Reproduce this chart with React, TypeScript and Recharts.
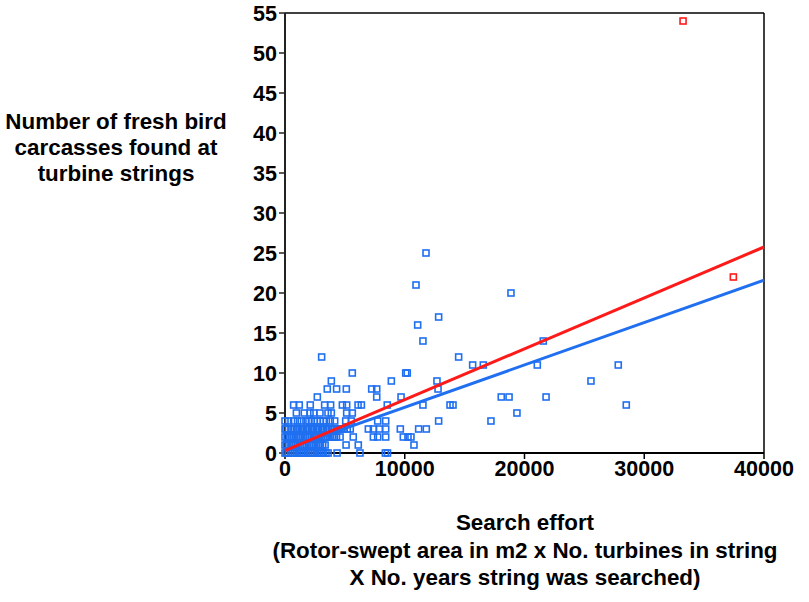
import React from 'react';
import { ScatterChart, Scatter, XAxis, YAxis, ReferenceLine } from 'recharts';

// ---------- data ----------
const X_TICKS = [0, 10000, 20000, 30000, 40000];
const Y_TICKS = [0, 5, 10, 15, 20, 25, 30, 35, 40, 45, 50, 55];

const Y_TITLE = ['Number of fresh bird', 'carcasses found at', 'turbine strings'];
const X_TITLE = [
  'Search effort',
  '(Rotor-swept area in m2 x No. turbines in string',
  'X No. years string was searched)',
];

// search effort of blue strings, grouped by number of carcasses found
const blue0 = [0, 120, 280, 450, 640, 820, 1000, 1190, 1370, 1560, 1750, 1930, 2120, 2300, 2490, 2680, 2860, 3050, 3240, 3420, 3600, 4350, 6260, 8380, 8560];
const blue1 = [0, 140, 330, 520, 700, 900, 1080, 1270, 1460, 1650, 1830, 2020, 2210, 2400, 2590, 2780, 2960, 3150, 3350, 5100, 6120, 10770];
const blue2 = [0, 170, 360, 560, 740, 930, 1120, 1310, 1500, 1690, 1880, 2070, 2250, 2440, 2630, 2820, 3010, 3200, 3380, 3570, 3760, 3950, 4130, 4300, 4600, 5700, 7380, 7740, 8410, 9880, 10270, 10520];
const blue3 = [0, 80, 300, 530, 740, 950, 1160, 1360, 1570, 1780, 1990, 2200, 2400, 2610, 2820, 3030, 3240, 3450, 3660, 3870, 4080, 4290, 4500, 4700, 4850, 5200, 5450, 6960, 7380, 7880, 8410, 9630, 11160, 11800];
const blue4 = [0, 300, 720, 1050, 1360, 1750, 2000, 2200, 2450, 2700, 2950, 3200, 3450, 3780, 4150, 5070, 5540, 7740, 8410, 12830, 17200];
const blue5 = [950, 1610, 2090, 2400, 2920, 3590, 3870, 5150, 5620, 19370];
const blue6 = [720, 1190, 2110, 3310, 3810, 4790, 5150, 6100, 6380, 8540, 11520, 13780, 14030, 28500];
const blue7 = [2700, 7660, 9690, 18060, 18710, 21800];
const blue8 = [3530, 4310, 5120, 7240, 7660, 12780];
const blue9 = [3870, 8880, 12690, 25550];
const blue10 = [5620, 10080, 10210];
const blue11 = [15670, 16560, 21070, 27830];
const blue12 = [3060, 14500];
const blue14 = [11520, 21570];
const blue16 = [11080];
const blue17 = [12830];
const blue20 = [18870];
const blue21 = [10940];
const blue25 = [11775];

const BLUE_ROWS: [number, number[]][] = [
  [0, blue0], [1, blue1], [2, blue2], [3, blue3], [4, blue4], [5, blue5],
  [6, blue6], [7, blue7], [8, blue8], [9, blue9], [10, blue10], [11, blue11],
  [12, blue12], [14, blue14], [16, blue16], [17, blue17], [20, blue20],
  [21, blue21], [25, blue25],
];

// red strings
const redEffort = [33240, 37440];
const redCount = [54, 22];

// regression lines
const fitEffort = [0, 40000];
const redFitCount = [0.3, 25.75];
const blueFitCount = [0.42, 21.6];

// ---------- build ----------
const blueData = BLUE_ROWS.flatMap(([count, efforts]) => efforts.map((e) => ({ x: e, y: count })));
const redData = redEffort.map((e, i) => ({ x: e, y: redCount[i] }));
const redFit = fitEffort.map((e, i) => ({ x: e, y: redFitCount[i] }));
const blueFit = fitEffort.map((e, i) => ({ x: e, y: blueFitCount[i] }));

const BLUE = '#1f6ff0';
const RED = '#ff1a1a';
const FONT = '"Liberation Sans", Arial, Helvetica, sans-serif';

const makeSquare = (color: string) => (props: any) => {
  const { cx, cy } = props;
  if (cx == null || cy == null) return <g />;
  return (
    <rect x={cx - 3} y={cy - 3} width={6} height={6} fill="none" stroke={color} strokeWidth={1.6} />
  );
};
const noShape = () => <g />;

const tickStyle = { fontFamily: FONT, fontWeight: 'bold' as const, fontSize: 21.5, fill: '#000' };
const titleStyle = { fontFamily: FONT, fontWeight: 'bold' as const, fontSize: 22.4, fill: '#000' };

const renderYTitle = () => (
  <g>
    {Y_TITLE.map((t, i) => (
      <text key={i} x={116} y={129 + i * 26} textAnchor="middle" style={titleStyle}>
        {t}
      </text>
    ))}
  </g>
);

const renderXTitle = () => (
  <g>
    {X_TITLE.map((t, i) => (
      <text key={i} x={525} y={530 + i * 27.5} textAnchor="middle" style={titleStyle}>
        {t}
      </text>
    ))}
  </g>
);

export default function App() {
  return (
    <div style={{ position: 'absolute', left: 0, top: 0, width: 809, height: 602, background: '#fff' }}>
      <ScatterChart width={809} height={602} margin={{ top: 13, right: 45, bottom: 119, left: 0 }}>
        <XAxis
          type="number"
          dataKey="x"
          domain={[0, 40000]}
          ticks={X_TICKS}
          interval={0}
          height={30}
          tickSize={6}
          axisLine={{ stroke: '#000', strokeWidth: 2 }}
          tickLine={{ stroke: '#000', strokeWidth: 1.5 }}
          tick={{ ...tickStyle }}
          label={renderXTitle}
        />
        <YAxis
          type="number"
          dataKey="y"
          domain={[0, 55]}
          ticks={Y_TICKS}
          interval={0}
          width={285}
          tickSize={6}
          axisLine={{ stroke: '#222', strokeWidth: 2 }}
          tickLine={{ stroke: '#222', strokeWidth: 1.5 }}
          tick={{ ...tickStyle }}
          label={renderYTitle}
        />
        <ReferenceLine y={55} stroke="#000" strokeWidth={1.5} />
        <ReferenceLine x={40000} stroke="#000" strokeWidth={1.5} />
        <Scatter data={blueData} shape={makeSquare(BLUE)} isAnimationActive={false} />
        <Scatter
          data={blueFit}
          shape={noShape}
          line={{ stroke: BLUE, strokeWidth: 3 }}
          lineType="joint"
          isAnimationActive={false}
        />
        <Scatter
          data={redFit}
          shape={noShape}
          line={{ stroke: RED, strokeWidth: 3 }}
          lineType="joint"
          isAnimationActive={false}
        />
        <Scatter data={redData} shape={makeSquare(RED)} isAnimationActive={false} />
      </ScatterChart>
    </div>
  );
}
